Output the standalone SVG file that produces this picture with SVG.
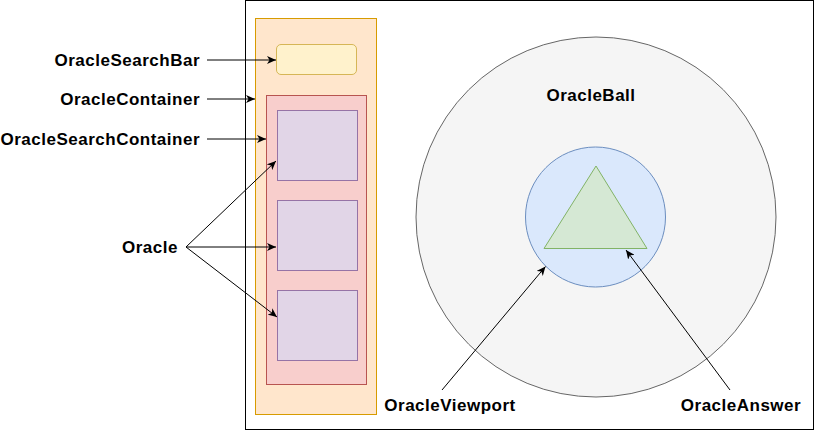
<svg xmlns="http://www.w3.org/2000/svg" width="816" height="431" viewBox="0 0 816 431">
<style>
text{font-family:"Liberation Sans",Arial,Helvetica,sans-serif;font-weight:bold;font-size:17px;letter-spacing:0.5px;fill:#000}
.c{stroke:#000;stroke-width:1;fill:none;marker-end:url(#ah)}
</style>
<defs>
<marker id="ah" viewBox="0 0 10 8" refX="9" refY="4" markerWidth="10" markerHeight="8" markerUnits="userSpaceOnUse" orient="auto">
<path d="M0,0 L9,4 L0,8 L2.5,4 z" fill="#000"/>
</marker>
</defs>
<rect width="816" height="431" fill="#fff"/>
<g id="frame"><rect x="245.5" y="0.5" width="568" height="429" fill="#fff" stroke="#000"/></g>
<g id="OracleContainer"><rect x="255.5" y="18.5" width="121" height="396" fill="#ffe6cc" stroke="#d79b00"/></g>
<g id="OracleSearchBar"><rect x="276.5" y="44.5" width="80" height="30" rx="4.5" fill="#fff2cc" stroke="#d6b656"/></g>
<g id="OracleSearchContainer"><rect x="266.5" y="95.5" width="100" height="289" fill="#f8cecc" stroke="#b85450"/></g>
<g id="Oracle1"><rect x="277.5" y="110.5" width="80" height="70" fill="#e1d5e7" stroke="#9673a6"/></g>
<g id="Oracle2"><rect x="277.5" y="200.5" width="80" height="70" fill="#e1d5e7" stroke="#9673a6"/></g>
<g id="Oracle3"><rect x="277.5" y="290.5" width="80" height="70" fill="#e1d5e7" stroke="#9673a6"/></g>
<g id="OracleBall"><circle cx="596" cy="217" r="180" fill="#f5f5f5" stroke="#666"/><text x="591" y="101" text-anchor="middle">OracleBall</text></g>
<g id="OracleViewport"><circle cx="595.5" cy="217" r="70" fill="#dae8fc" stroke="#6c8ebf"/></g>
<g id="OracleAnswer"><polygon points="596,166 544,248.5 647,248.5" fill="#d5e8d4" stroke="#82b366"/></g>
<g id="labels">
<text x="200" y="66" text-anchor="end">OracleSearchBar</text>
<text x="200" y="105" text-anchor="end">OracleContainer</text>
<text x="200" y="145" text-anchor="end">OracleSearchContainer</text>
<text x="150" y="253" text-anchor="middle">Oracle</text>
<text x="450" y="411" text-anchor="middle">OracleViewport</text>
<text x="741" y="411" text-anchor="middle">OracleAnswer</text>
</g>
<g id="connectors">
<line class="c" x1="207" y1="60" x2="276" y2="60"/>
<line class="c" x1="207" y1="99" x2="255" y2="99"/>
<line class="c" x1="207" y1="139" x2="266" y2="139"/>
<line class="c" x1="186" y1="247" x2="276" y2="161"/>
<line class="c" x1="186" y1="247" x2="276" y2="247"/>
<line class="c" x1="186" y1="247" x2="277" y2="317"/>
<line class="c" x1="442" y1="390" x2="545.5" y2="266.5"/>
<line class="c" x1="730" y1="390" x2="626" y2="250"/>
</g>
</svg>
